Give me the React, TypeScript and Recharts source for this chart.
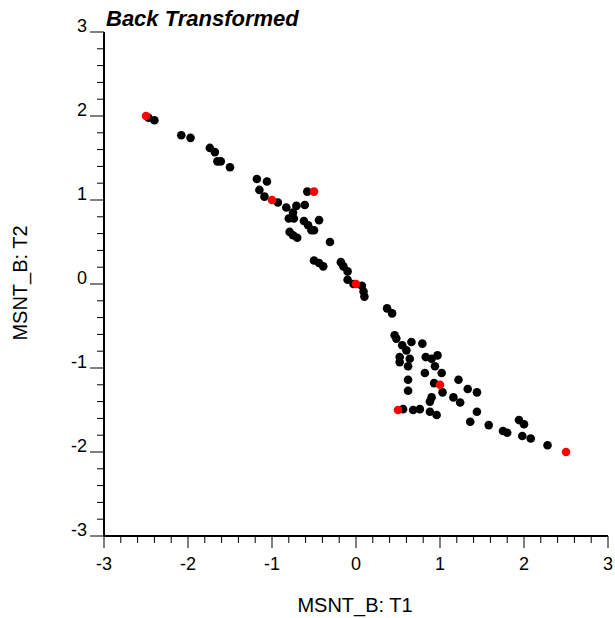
import React from "react"
import { ScatterChart, Scatter, XAxis, YAxis } from "recharts"

// sample points (MSNT_B: T1, MSNT_B: T2)
const samplePoints: [number, number][] = [
  [-2.47, 1.98], [-2.4, 1.95], [-2.08, 1.77], [-1.97, 1.74], [-1.74, 1.62], [-1.68, 1.57],
  [-1.65, 1.46], [-1.61, 1.46], [-1.5, 1.39], [-1.18, 1.25], [-1.06, 1.22], [-1.15, 1.12],
  [-1.09, 1.04], [-0.93, 0.97], [-0.58, 1.1], [-0.83, 0.91], [-0.71, 0.93], [-0.61, 0.94],
  [-0.75, 0.85], [-0.8, 0.78], [-0.74, 0.78], [-0.62, 0.75], [-0.57, 0.7], [-0.53, 0.64],
  [-0.5, 0.64], [-0.44, 0.76], [-0.79, 0.62], [-0.75, 0.58], [-0.7, 0.55], [-0.31, 0.5],
  [-0.5, 0.28], [-0.44, 0.25], [-0.39, 0.21], [-0.18, 0.26], [-0.15, 0.21], [-0.1, 0.15],
  [-0.1, 0.05], [-0.03, 0.0], [0.07, -0.02], [0.09, -0.09], [0.1, -0.15],
  [0.37, -0.29], [0.43, -0.35], [0.46, -0.61], [0.48, -0.65], [0.66, -0.69], [0.79, -0.71],
  [0.55, -0.73], [0.6, -0.79], [0.52, -0.87], [0.64, -0.89], [0.52, -0.93], [0.62, -0.98],
  [0.83, -0.87], [0.9, -0.89], [0.97, -0.85], [0.94, -0.98], [1.02, -1.06], [0.82, -1.06],
  [0.62, -1.14], [1.22, -1.14], [0.93, -1.18], [1.03, -1.29], [1.33, -1.25], [1.44, -1.29],
  [0.62, -1.27], [1.16, -1.35], [1.24, -1.41], [0.9, -1.35], [0.88, -1.4], [0.56, -1.49],
  [0.68, -1.5], [0.76, -1.49], [0.88, -1.52], [0.96, -1.56], [1.44, -1.52], [1.36, -1.64],
  [1.58, -1.68], [1.75, -1.75], [1.8, -1.77], [1.94, -1.62], [2.0, -1.67], [1.98, -1.81],
  [2.08, -1.84], [2.28, -1.92],
]

// reference points drawn in red
const refPoints: [number, number][] = [
  [-2.5, 2.0], [-1.0, 1.0], [-0.5, 1.1], [0.0, 0.0], [1.0, -1.2], [0.5, -1.5], [2.5, -2.0],
]

const axisTicks = [
  -3, -2.8, -2.6, -2.4, -2.2, -2, -1.8, -1.6, -1.4, -1.2, -1, -0.8, -0.6, -0.4, -0.2, 0,
  0.2, 0.4, 0.6, 0.8, 1, 1.2, 1.4, 1.6, 1.8, 2, 2.2, 2.4, 2.6, 2.8, 3,
]

const FONT = "'Liberation Sans', Arial, Helvetica, sans-serif"

const isMajor = (v: number) => Math.abs(v - Math.round(v)) < 1e-6

const YTick = (props: any) => {
  const { x, y, payload } = props
  const major = isMajor(payload.value)
  return (
    <g>
      <line x1={x} x2={x - (major ? 14 : 7)} y1={y} y2={y} stroke="#000" strokeWidth={1} />
      {major && (
        <text x={x - 17} y={y} textAnchor="end" fontSize={18} fontFamily={FONT} fill="#000">
          {Math.round(payload.value)}
        </text>
      )}
    </g>
  )
}

const XTick = (props: any) => {
  const { x, y, payload } = props
  const major = isMajor(payload.value)
  return (
    <g>
      <line x1={x} x2={x} y1={y} y2={y + (major ? 12 : 7)} stroke="#000" strokeWidth={1} />
      {major && (
        <text x={x} y={y + 34} textAnchor="middle" fontSize={18} fontFamily={FONT} fill="#000">
          {Math.round(payload.value)}
        </text>
      )}
    </g>
  )
}

const dot = (color: string) => (props: any) =>
  <circle cx={props.cx} cy={props.cy} r={4.3} fill={color} />

export default function App() {
  const samples = samplePoints.map(([x, y]) => ({ x, y }))
  const refs = refPoints.map(([x, y]) => ({ x, y }))

  return (
    <div style={{ position: "absolute", left: 0, top: 0, width: 615, height: 618 }}>
      <ScatterChart width={615} height={618} margin={{ top: 32, right: 7, bottom: 0, left: 0 }}>
        <XAxis
          type="number"
          dataKey="x"
          domain={[-3, 3]}
          ticks={axisTicks}
          interval={0}
          height={82}
          tickSize={0}
          tickMargin={0}
          tickLine={false}
          axisLine={{ stroke: "#000", strokeWidth: 2 }}
          tick={XTick}
          allowDataOverflow
        />
        <YAxis
          type="number"
          dataKey="y"
          domain={[-3, 3]}
          ticks={axisTicks}
          interval={0}
          width={104}
          tickSize={0}
          tickMargin={0}
          tickLine={false}
          axisLine={{ stroke: "#000", strokeWidth: 2 }}
          tick={YTick}
          allowDataOverflow
        />
        <Scatter data={samples} shape={dot("#000")} isAnimationActive={false} />
        <Scatter data={refs} shape={dot("#ff0000")} isAnimationActive={false} />
      </ScatterChart>
      <svg
        width={615}
        height={618}
        style={{ position: "absolute", left: 0, top: 0, pointerEvents: "none" }}
      >
        <text x={106} y={26} fontSize={22} fontWeight="bold" fontStyle="italic" fontFamily={FONT}>
          Back Transformed
        </text>
        <text x={355} y={612} textAnchor="middle" fontSize={20} fontFamily={FONT}>
          MSNT_B: T1
        </text>
        <text x={27} y={283} textAnchor="middle" fontSize={20} fontFamily={FONT} transform="rotate(-90, 27, 283)">
          MSNT_B: T2
        </text>
      </svg>
    </div>
  )
}
